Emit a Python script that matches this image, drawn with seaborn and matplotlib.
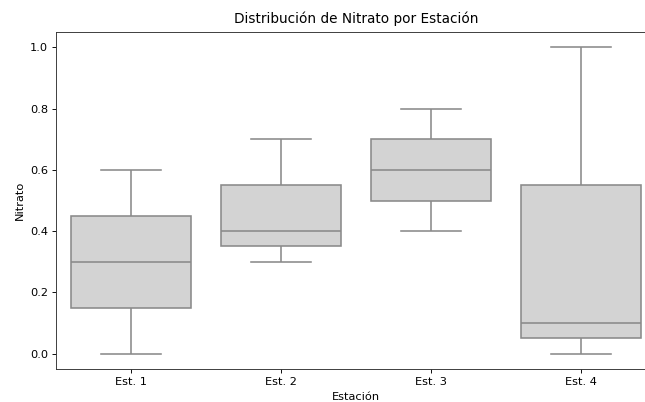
import matplotlib
matplotlib.use('Agg')
import matplotlib.pyplot as plt
import seaborn as sns
import pandas as pd

# Valores de nitrato por estación
est1 = [0.0, 0.15, 0.3, 0.45, 0.6]
est2 = [0.3, 0.35, 0.4, 0.55, 0.7]
est3 = [0.4, 0.5, 0.6, 0.7, 0.8]
est4 = [0.0, 0.05, 0.1, 0.55, 1.0]
estaciones = ['Est. 1', 'Est. 2', 'Est. 3', 'Est. 4']

df = pd.DataFrame({
    'Estación': [estaciones[0]] * len(est1) + [estaciones[1]] * len(est2)
    + [estaciones[2]] * len(est3) + [estaciones[3]] * len(est4),
    'Nitrato': est1 + est2 + est3 + est4,
})

dpi = 82
fig = plt.figure(figsize=(645 / dpi, 402 / dpi), dpi=dpi)
# el gráfico original aparece recortado por la derecha
ax = fig.add_axes([56 / 645, 33 / 402, 600 / 645, 337 / 402])
sns.boxplot(data=df, x='Estación', y='Nitrato', color='lightgray',
            order=estaciones, linecolor='#8a8a8a', linewidth=1.4, ax=ax)
ax.set_title('Distribución de Nitrato por Estación', pad=8)
ax.set_xlabel('Estación')
ax.set_ylabel('Nitrato')
for s in ax.spines.values():
    s.set_color('#333333')
fig.savefig('out.png', dpi=dpi)
